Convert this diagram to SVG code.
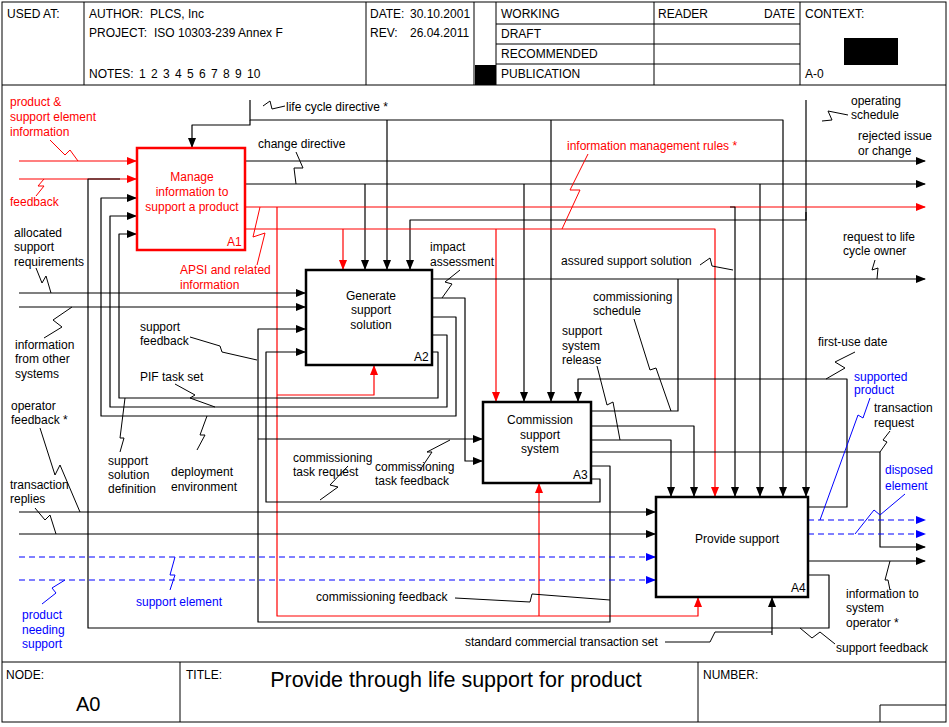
<svg xmlns="http://www.w3.org/2000/svg" width="949" height="727" viewBox="0 0 949 727">
<defs>
<marker id="ab" markerWidth="10" markerHeight="8" refX="9" refY="4" orient="auto" markerUnits="userSpaceOnUse"><path d="M0,0L10,4L0,8z" fill="#000"/></marker>
<marker id="ar" markerWidth="10" markerHeight="8" refX="9" refY="4" orient="auto" markerUnits="userSpaceOnUse"><path d="M0,0L10,4L0,8z" fill="#f00"/></marker>
<marker id="au" markerWidth="10" markerHeight="8" refX="9" refY="4" orient="auto" markerUnits="userSpaceOnUse"><path d="M0,0L10,4L0,8z" fill="#00f"/></marker>
</defs>
<style>
text{font-family:"Liberation Sans",Arial,sans-serif;font-size:12px;fill:#000}
.r{fill:#f00}.u{fill:#00f}.m{text-anchor:middle}
.f{fill:none;stroke:#000;stroke-width:1}
.k{fill:none;stroke:#000;stroke-width:1.2;stroke-linejoin:round}
.kr{fill:none;stroke:#f00;stroke-width:1.2;stroke-linejoin:round}
.ku{fill:none;stroke:#00f;stroke-width:1.2;stroke-dasharray:6,4}
.z{fill:none;stroke:#000;stroke-width:1}
.zr{fill:none;stroke:#f00;stroke-width:1}
.zu{fill:none;stroke:#00f;stroke-width:1}
.box{fill:#fff;stroke:#000;stroke-width:2.5}
</style>
<rect width="949" height="727" fill="#fff"/>
<g id="frame">
<rect x="2" y="2" width="944" height="720" class="f"/>
<path class="f" d="M2,85H946M84,2V85M366,2V85M474,2V85M496,2V85M654,2V85M800,2V85M496,24H800M496,44H800M496,64H800M2,662H946M180,662V722M698,662V722M880,705H946M880,705V722"/>
<rect x="475" y="65" width="21" height="20" fill="#000"/>
<rect x="844" y="38" width="54" height="27" fill="#000"/>
<text x="7" y="18">USED AT:</text>
<text x="89" y="18">AUTHOR:</text><text x="150" y="18">PLCS, Inc</text>
<text x="89" y="37">PROJECT:</text><text x="154" y="37">ISO 10303-239 Annex F</text>
<text x="89" y="78">NOTES:</text><text x="139" y="78" style="word-spacing:2px">1 2 3 4 5 6 7 8 9 10</text>
<text x="370" y="18">DATE:</text><text x="410" y="18">30.10.2001</text>
<text x="370" y="37">REV:</text><text x="410" y="37">26.04.2011</text>
<text x="501" y="18">WORKING</text>
<text x="501" y="38">DRAFT</text>
<text x="501" y="58">RECOMMENDED</text>
<text x="501" y="78">PUBLICATION</text>
<text x="658" y="18">READER</text>
<text x="764" y="18">DATE</text>
<text x="805" y="18">CONTEXT:</text>
<text x="805" y="78">A-0</text>
<text x="6" y="679">NODE:</text>
<text x="76" y="711" style="font-size:20px">A0</text>
<text x="186" y="679">TITLE:</text>
<text x="456" y="687" class="m" style="font-size:21.5px">Provide through life support for product</text>
<text x="703" y="679">NUMBER:</text>
</g>
<g id="connectors">
<path class="kr" d="M19,161H136" marker-end="url(#ar)"/>
<path class="kr" d="M19,179H136" marker-end="url(#ar)"/>
<path class="k" d="M250,100V120H783V496" marker-end="url(#ab)"/>
<path class="k" d="M250,120V125H192V147" marker-end="url(#ab)"/>
<path class="k" d="M387,120V269" marker-end="url(#ab)"/>
<path class="k" d="M551,120V401" marker-end="url(#ab)"/>
<path class="k" d="M806,100V496" marker-end="url(#ab)"/>
<path class="k" d="M806,212V220H410V269" marker-end="url(#ab)"/>
<path class="k" d="M245,161H925" marker-end="url(#ab)"/>
<path class="k" d="M245,184H925" marker-end="url(#ab)"/>
<path class="k" d="M365,184V269" marker-end="url(#ab)"/>
<path class="k" d="M524,184V401" marker-end="url(#ab)"/>
<path class="k" d="M760,184V496" marker-end="url(#ab)"/>
<path class="kr" d="M245,207H925" marker-end="url(#ar)"/>
<path class="k" d="M730,207H735V496" marker-end="url(#ab)"/>
<path class="kr" d="M245,229H715V496" marker-end="url(#ar)"/>
<path class="kr" d="M343,229V269" marker-end="url(#ar)"/>
<path class="kr" d="M496,229V401" marker-end="url(#ar)"/>
<path class="kr" d="M277,207V616H698V598" marker-end="url(#ar)"/>
<path class="kr" d="M277,395H374V366" marker-end="url(#ar)"/>
<path class="kr" d="M539,616V484" marker-end="url(#ar)"/>
<path class="k" d="M19,293H305" marker-end="url(#ab)"/>
<path class="k" d="M19,307H305" marker-end="url(#ab)"/>
<path class="k" d="M432,279H925" marker-end="url(#ab)"/>
<path class="k" d="M432,298H465V461H482" marker-end="url(#ab)"/>
<path class="k" d="M432,317H456V416H101V198H136" marker-end="url(#ab)"/>
<path class="k" d="M432,335H447V407H110V216H136" marker-end="url(#ab)"/>
<path class="k" d="M432,352H438V398H119V234H136" marker-end="url(#ab)"/>
<path class="k" d="M591,411H678V279"/>
<path class="k" d="M591,426H694V496" marker-end="url(#ab)"/>
<path class="k" d="M591,440H671V496" marker-end="url(#ab)"/>
<path class="k" d="M591,452H880V547H925" marker-end="url(#ab)"/>
<path class="k" d="M591,466H610V622H258V329H305" marker-end="url(#ab)"/>
<path class="k" d="M258,439H482" marker-end="url(#ab)"/>
<path class="k" d="M591,479H600V502H266V352H305" marker-end="url(#ab)"/>
<path class="k" d="M19,512H655" marker-end="url(#ab)"/>
<path class="k" d="M19,534H655" marker-end="url(#ab)"/>
<path class="ku" d="M19,557H655" marker-end="url(#au)"/>
<path class="ku" d="M19,580H655" marker-end="url(#au)"/>
<path class="k" d="M772,635V598" marker-end="url(#ab)"/>
<path class="k" d="M808,507H847V379H578V401" marker-end="url(#ab)"/>
<path class="ku" d="M808,520H925" marker-end="url(#au)"/>
<path class="ku" d="M808,534H925" marker-end="url(#au)"/>
<path class="k" d="M808,561H925" marker-end="url(#ab)"/>
<path class="k" d="M808,575H829V628H88V179H120"/>
<path class="zr" d="M50,140L65,155L70,150L78,161"/>
<path class="zr" d="M36,196L44,186L38,186L44,179"/>
<path class="z" d="M36,268L42,283L46,276L51,293"/>
<path class="z" d="M44,338L62,327L53,320L72,307"/>
<path class="z" d="M40,428L55,475L60,465L80,512"/>
<path class="z" d="M35,508L45,520L50,515L56,534"/>
<path class="zu" d="M42,604L56,593L52,588L65,580"/>
<path class="zu" d="M170,590L175,575L170,575L175,557"/>
<path class="z" d="M120,452L124,438L120,438L125,398"/>
<path class="z" d="M197,450L205,435L200,435L207,416"/>
<path class="z" d="M175,384L195,395L190,398L215,407"/>
<path class="z" d="M190,337L220,346L222,352L257,360"/>
<path class="zr" d="M257,265L265,233L253,237L260,207"/>
<path class="z" d="M263,106L270,101L272,109L285,106"/>
<path class="z" d="M296,152L303,168L294,168L296,184"/>
<path class="z" d="M460,270L445,282L452,284L442,298"/>
<path class="zr" d="M588,154L570,190L580,190L562,229"/>
<path class="z" d="M700,265L710,258L712,266L733,270"/>
<path class="z" d="M634,319L650,370L656,368L671,411"/>
<path class="z" d="M597,366L607,405L613,402L620,440"/>
<path class="z" d="M320,500L338,487L330,485L348,466"/>
<path class="z" d="M420,470L432,452L427,452L450,440"/>
<path class="z" d="M455,598L530,602L532,594L610,600"/>
<path class="z" d="M665,642L710,642L715,632L772,632"/>
<path class="z" d="M835,644L820,632L812,638L800,628"/>
<path class="z" d="M890,590L888,580L885,580L890,561"/>
<path class="zu" d="M905,494L880,515L874,510L855,534"/>
<path class="z" d="M890,431L883,440L887,442L880,452"/>
<path class="zu" d="M870,398L863,418L858,415L820,520"/>
<path class="z" d="M855,352L835,362L845,368L826,379"/>
<path class="z" d="M875,260L872,270L878,268L877,279"/>
<path class="z" d="M848,115L828,111L832,120L822,121"/>
</g>
<g id="A1"><rect x="137" y="148" width="108" height="102" class="box" style="stroke:#f00"/>
<text x="192" y="181" class="m r">Manage</text><text x="192" y="196" class="m r">information to</text><text x="192" y="211" class="m r">support a product</text><text x="227" y="246" class="r">A1</text></g>
<g id="A2"><rect x="306" y="270" width="126" height="95" class="box"/>
<text x="371" y="300" class="m">Generate</text><text x="371" y="314" class="m">support</text><text x="371" y="329" class="m">solution</text><text x="414" y="361">A2</text></g>
<g id="A3"><rect x="483" y="402" width="108" height="81" class="box"/>
<text x="540" y="424" class="m">Commission</text><text x="540" y="439" class="m">support</text><text x="540" y="453" class="m">system</text><text x="573" y="479">A3</text></g>
<g id="A4"><rect x="656" y="497" width="152" height="100" class="box"/>
<text x="737" y="543" class="m">Provide support</text><text x="791" y="592">A4</text></g>
<g id="labels">
<text x="10" y="106" class="r">product &amp;</text><text x="10" y="121" class="r">support element</text><text x="10" y="136" class="r">information</text>
<text x="10" y="206" class="r">feedback</text>
<text x="14" y="237">allocated</text><text x="14" y="251">support</text><text x="14" y="266">requirements</text>
<text x="15" y="349">information</text><text x="15" y="363">from other</text><text x="15" y="378">systems</text>
<text x="11" y="410">operator</text><text x="11" y="424">feedback *</text>
<text x="10" y="489">transaction</text><text x="10" y="503">replies</text>
<text x="22" y="619" class="u">product</text><text x="22" y="634" class="u">needing</text><text x="22" y="648" class="u">support</text>
<text x="136" y="606" class="u">support element</text>
<text x="108" y="465">support</text><text x="108" y="479">solution</text><text x="108" y="493">definition</text>
<text x="171" y="476">deployment</text><text x="171" y="491">environment</text>
<text x="140" y="381">PIF task set</text>
<text x="140" y="331">support</text><text x="140" y="345">feedback</text>
<text x="180" y="274" class="r">APSI and related</text><text x="180" y="289" class="r">information</text>
<text x="286" y="111">life cycle directive *</text>
<text x="258" y="148">change directive</text>
<text x="430" y="251">impact</text><text x="430" y="266">assessment</text>
<text x="567" y="150" class="r">information management rules *</text>
<text x="561" y="265">assured support solution</text>
<text x="593" y="301">commissioning</text><text x="593" y="315">schedule</text>
<text x="562" y="335">support</text><text x="562" y="350">system</text><text x="562" y="364">release</text>
<text x="293" y="462">commissioning</text><text x="293" y="476">task request</text>
<text x="375" y="471">commissioning</text><text x="375" y="485">task feedback</text>
<text x="316" y="601">commissioning feedback</text>
<text x="465" y="646">standard commercial transaction set</text>
<text x="836" y="652">support feedback</text>
<text x="846" y="598">information to</text><text x="846" y="612">system</text><text x="846" y="627">operator *</text>
<text x="885" y="474" class="u">disposed</text><text x="885" y="490" class="u">element</text>
<text x="874" y="412">transaction</text><text x="874" y="427">request</text>
<text x="854" y="381" class="u">supported</text><text x="854" y="394" class="u">product</text>
<text x="818" y="346">first-use date</text>
<text x="843" y="241">request to life</text><text x="843" y="255">cycle owner</text>
<text x="858" y="140">rejected issue</text><text x="858" y="155">or change</text>
<text x="851" y="105">operating</text><text x="851" y="119">schedule</text>
</g>
</svg>
